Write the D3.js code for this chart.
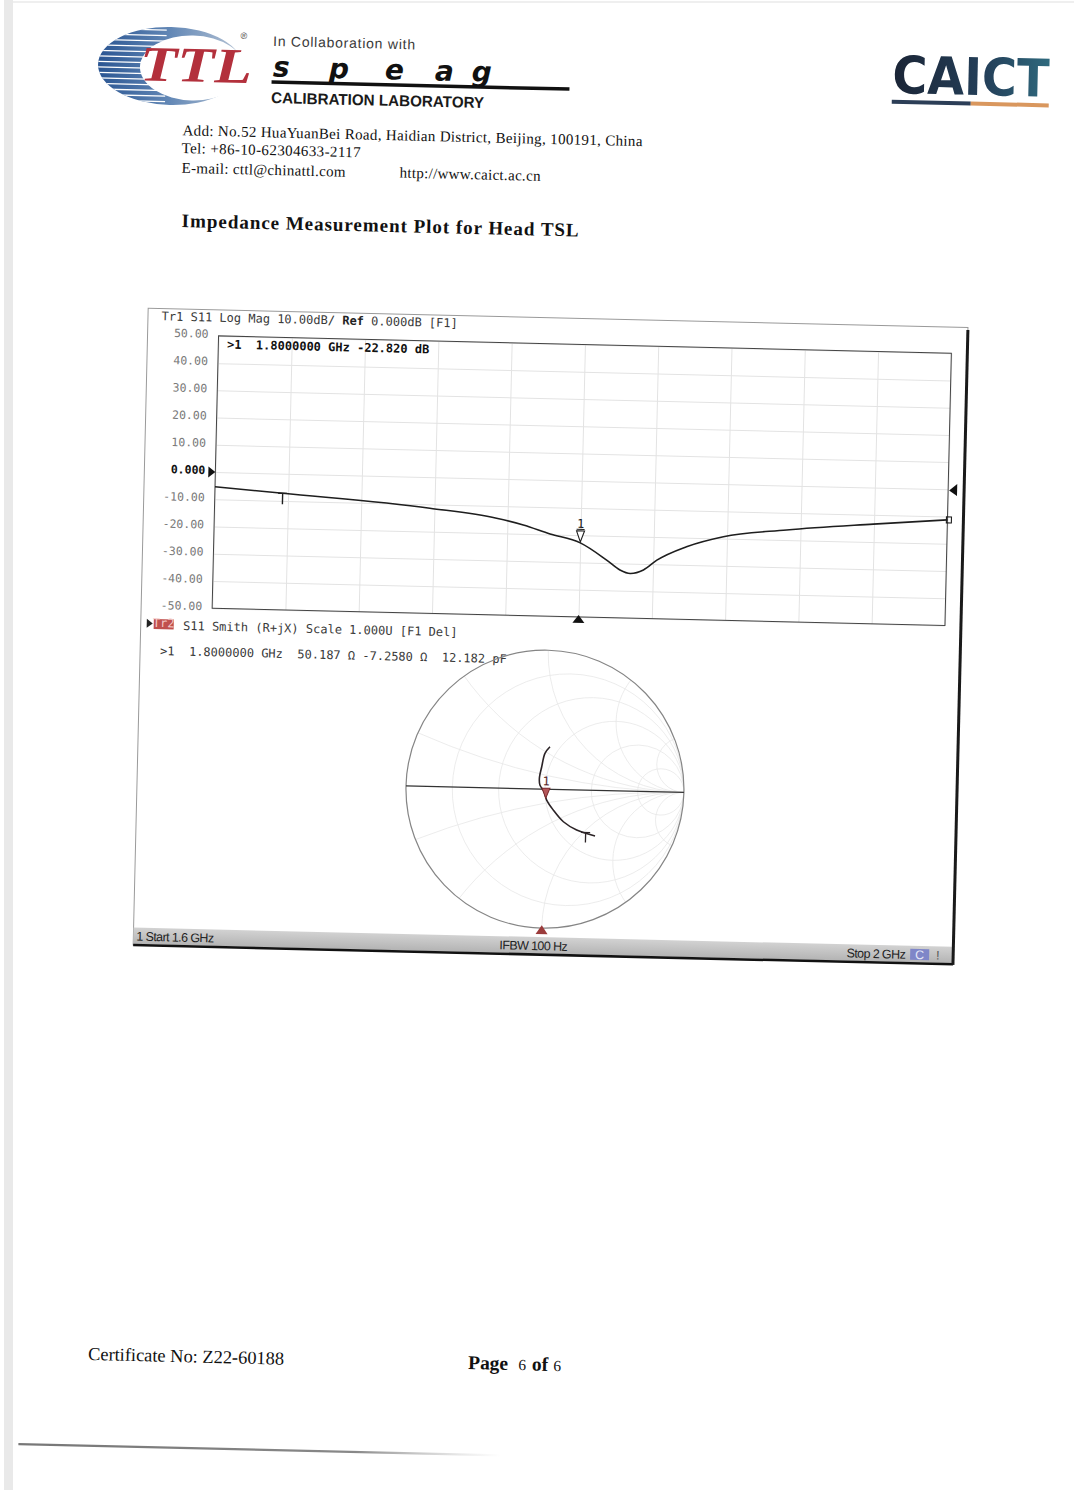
<!DOCTYPE html>
<html>
<head>
  <meta charset="utf-8">
  <title>Impedance Measurement Plot for Head TSL</title>
  <script src="https://d3js.org/d3.v7.min.js"></script>
  <style>
    body { margin: 0; background: #fff; }
    svg { display: block; }
    .serif { font-family: "Liberation Serif", "Times New Roman", serif; fill: #111; }
    .sans { font-family: "Liberation Sans", Arial, sans-serif; }
    .mono { font-family: "DejaVu Sans Mono", monospace; font-size: 12px; fill: #3a3a3a; }
    .grid line { stroke: #e3e3e3; stroke-width: 1; }
    .grid path { display: none; }
    .ylab path { display: none; }
    .ylab text { font-family: "DejaVu Sans Mono", monospace; font-size: 11.5px; fill: #7a7a7a; }
    .smithgrid circle { fill: none; stroke: #e8e8e8; stroke-width: 0.8; }
    .status text { font-family: "Liberation Sans", Arial, sans-serif; font-size: 12.5px; fill: #222; letter-spacing: -0.6px; }
  </style>
</head>
<body>
<svg width="1074" height="1490"></svg>
<script>

// S11 log magnitude (GHz / dB)
const freqGHz = [1.6, 1.637, 1.7175, 1.754, 1.7687, 1.7834, 1.8, 1.8146, 1.822, 1.8276, 1.8348, 1.842, 1.858, 1.878, 1.9124, 1.9596, 2.0];
const s11dB   = [-5.4, -7.2, -11.4, -14.5, -16.75, -19.8, -22.82, -28.9, -32.4, -33.6, -32.2, -28.5, -23.3, -19.3, -16.3, -13.4, -11.2];

// axes of the log mag panel
const dbTicks = [50, 40, 30, 20, 10, 0, -10, -20, -30, -40, -50];
const freqStart = 1.6, freqStop = 2.0, freqDivs = 10;

// Smith chart trace, reflection coefficient (1.6 GHz -> 2 GHz)
const smithRe = [0.368, 0.235, 0.138, 0.063, 0.014, -0.006, -0.037, -0.042, -0.027, -0.006, 0.029];
const smithIm = [-0.328, -0.288, -0.231, -0.148, -0.078, -0.018, 0.029, 0.077, 0.161, 0.258, 0.306];
const smithGridR = [0.2, 0.5, 1, 2, 5];
const smithGridX = [0.2, 0.5, 1, 2, 5];

// markers
const marker1Freq = 1.8, marker1dB = -22.82;
const marker1Gamma = [0.007, -0.072];
const markerTFreq = 1.637, markerTdB = -7.2;
const markerTGamma = [0.30, -0.305];

const svg = d3.select("svg");
const defs = svg.append("defs");

svg.append("rect").attr("width", 1074).attr("height", 1490).attr("fill", "#fff");
// scanner shading on the left edge (not tilted)
svg.append("rect").attr("x", 4).attr("y", 0).attr("width", 9).attr("height", 1490).attr("fill", "#e9e9e9");
svg.append("line").attr("x1", 13).attr("x2", 1074).attr("y1", 2).attr("y2", 2)
  .attr("stroke", "#efefef").attr("stroke-width", 2);

// the whole sheet is scanned slightly tilted
const page = svg.append("g").attr("transform", "rotate(1.35 537 745)");

// ---------- TTL logo ----------
const ttlGrad = defs.append("linearGradient").attr("id", "ttlBlue");
[["0", "#2a5592"], ["0.5", "#6388b6"], ["1", "#b9c6d6"]].forEach(([o, c]) =>
  ttlGrad.append("stop").attr("offset", o).attr("stop-color", c));
defs.append("clipPath").attr("id", "ttlClip").append("ellipse")
  .attr("cx", 154.6).attr("cy", 74.8).attr("rx", 72.5).attr("ry", 39);

const ttl = page.append("g");
ttl.append("ellipse").attr("cx", 154.6).attr("cy", 74.8).attr("rx", 72.5).attr("ry", 39)
  .attr("fill", "url(#ttlBlue)");
ttl.append("g").attr("clip-path", "url(#ttlClip)")
  .selectAll("line").data(d3.range(39, 114, 5.5)).join("line")
  .attr("x1", 80).attr("x2", 150).attr("y1", d => d).attr("y2", d => d)
  .attr("stroke", "#fff").attr("stroke-width", 1.3);
ttl.append("ellipse").attr("cx", 176.6).attr("cy", 76.3).attr("rx", 52.5).attr("ry", 32.5)
  .attr("fill", "#fff");
ttl.append("text").attr("class", "serif").attr("x", 124).attr("y", 90)
  .attr("font-size", 50).attr("font-weight", "bold").attr("font-style", "italic")
  .attr("textLength", 112).attr("lengthAdjust", "spacingAndGlyphs")
  .style("fill", "#b3303c").text("TTL");
ttl.append("text").attr("class", "sans").attr("x", 224).attr("y", 46)
  .attr("font-size", 9).attr("fill", "#333").text("®");

// ---------- speag ----------
page.append("text").attr("class", "sans").attr("x", 256.6).attr("y", 52.4)
  .attr("font-size", 14).attr("fill", "#3a3a3a").attr("textLength", 142)
  .text("In Collaboration with");
const speag = page.append("text").attr("x", 0).attr("y", 83)
  .style("font-family", "'DejaVu Sans', sans-serif").attr("font-size", 28)
  .attr("font-weight", "bold").attr("font-style", "italic").attr("fill", "#111");
[["s", 257], ["p", 313], ["e", 369], ["a", 419], ["g", 456]].forEach(([ch, x]) =>
  speag.append("tspan").attr("x", x).text(ch));
page.append("line").attr("x1", 256).attr("x2", 554).attr("y1", 88.5).attr("y2", 88.5)
  .attr("stroke", "#111").attr("stroke-width", 3.5);
page.append("text").attr("class", "sans").attr("x", 256).attr("y", 109.5)
  .attr("font-size", 15.5).attr("font-weight", "bold").attr("fill", "#1a1a1a")
  .attr("textLength", 213).attr("lengthAdjust", "spacingAndGlyphs")
  .text("CALIBRATION LABORATORY");

// ---------- CAICT ----------
const caGrad = defs.append("linearGradient").attr("id", "caictText").attr("x2", "1").attr("y2", "0");
[["0", "#1b2536"], ["0.6", "#24405a"], ["1", "#2f6a7e"]].forEach(([o, c]) =>
  caGrad.append("stop").attr("offset", o).attr("stop-color", c));
page.append("text").attr("x", 876.5).attr("y", 84.8)
  .style("font-family", "'DejaVu Sans', sans-serif").attr("font-size", 52).attr("font-weight", "bold")
  .attr("textLength", 157).attr("lengthAdjust", "spacingAndGlyphs")
  .attr("fill", "url(#caictText)").text("CAICT");
page.append("rect").attr("x", 876.5).attr("y", 91.5).attr("width", 79).attr("height", 4).attr("fill", "#2c3e57");
page.append("rect").attr("x", 955.5).attr("y", 91.5).attr("width", 78).attr("height", 4).attr("fill", "#d9975e");

// ---------- address ----------
const addr = [
  ["Add: No.52 HuaYuanBei Road, Haidian District, Beijing, 100191, China", 168.2, 143.8, 460],
  ["Tel: +86-10-62304633-2117", 167.6, 161.6, 179],
  ["E-mail: cttl@chinattl.com", 168.1, 181.4, 164],
  ["http://www.caict.ac.cn", 386.1, 181, 141]
];
page.selectAll(".addr").data(addr).join("text").attr("class", "serif addr")
  .attr("x", d => d[1]).attr("y", d => d[2]).attr("font-size", 15)
  .attr("textLength", d => d[3]).text(d => d[0]);
page.append("text").attr("class", "serif").attr("x", 169.5).attr("y", 235.6)
  .attr("font-size", 19).attr("font-weight", "bold").attr("textLength", 397)
  .text("Impedance Measurement Plot for Head TSL");

// ---------- analyzer screen ----------
const scr = page.append("g");
const frame = { left: 138, top: 317.5, right: 958, bottom: 954.5 };
scr.append("rect").attr("x", frame.left).attr("y", frame.top)
  .attr("width", frame.right - frame.left).attr("height", frame.bottom - frame.top)
  .attr("fill", "#fff").attr("stroke", "#9a9a9a").attr("stroke-width", 1);

// log mag panel
const plot = { left: 209, right: 942, top: 343.5, bottom: 616 };
const x = d3.scaleLinear().domain([freqStart, freqStop]).range([plot.left, plot.right]);
const y = d3.scaleLinear().domain([-50, 50]).range([plot.bottom, plot.top]);
const freqGrid = d3.range(freqDivs + 1).map(i => freqStart + i * (freqStop - freqStart) / freqDivs);

scr.append("g").attr("class", "grid").attr("transform", `translate(${plot.left},0)`)
  .call(d3.axisLeft(y).tickValues(dbTicks).tickSize(-(plot.right - plot.left)).tickFormat(""));
scr.append("g").attr("class", "grid").attr("transform", `translate(0,${plot.bottom})`)
  .call(d3.axisBottom(x).tickValues(freqGrid).tickSize(-(plot.bottom - plot.top)).tickFormat(""));

scr.append("rect").attr("x", plot.left).attr("y", plot.top)
  .attr("width", plot.right - plot.left).attr("height", plot.bottom - plot.top)
  .attr("fill", "none").attr("stroke", "#444").attr("stroke-width", 1);

const ylab = scr.append("g").attr("class", "ylab").attr("transform", `translate(${plot.left},-2)`)
  .call(d3.axisLeft(y).tickValues(dbTicks).tickSize(0).tickPadding(10)
    .tickFormat(v => v === 0 ? "0.000" : v.toFixed(2)));
ylab.selectAll("text").filter(v => v === 0).style("fill", "#111").style("font-weight", "bold");

// reference level arrows
scr.append("path").attr("fill", "#111")
  .attr("d", `M${plot.left - 7},${y(0) - 5.5} L${plot.left},${y(0)} L${plot.left - 7},${y(0) + 5.5} Z`);
scr.append("path").attr("fill", "#111")
  .attr("d", `M${plot.right + 9},${y(0) - 5.5} L${plot.right + 1},${y(0) + 1} L${plot.right + 9},${y(0) + 6.5} Z`);

const hdr = scr.append("text").attr("class", "mono").attr("x", 151.7).attr("y", 329.3);
hdr.append("tspan").text("Tr1 S11 Log Mag 10.00dB/ ");
hdr.append("tspan").attr("font-weight", "bold").style("fill", "#222").text("Ref");
hdr.append("tspan").text(" 0.000dB [F1]");
scr.append("text").attr("class", "mono").attr("x", 217.7).attr("y", 356)
  .attr("font-weight", "bold").style("fill", "#111").attr("xml:space", "preserve")
  .text(">1  1.8000000 GHz -22.820 dB");

const logData = freqGHz.map((f, i) => ({ f, db: s11dB[i] }));
scr.append("path").datum(logData).attr("fill", "none").attr("stroke", "#1e1e1e").attr("stroke-width", 1.6)
  .attr("d", d3.line().x(d => x(d.f)).y(d => y(d.db)).curve(d3.curveMonotoneX));

// T marker
const tx = x(markerTFreq), ty = y(markerTdB);
scr.append("path").attr("fill", "none").attr("stroke", "#1e1e1e").attr("stroke-width", 1.4)
  .attr("d", `M${tx - 4.5},${ty} H${tx + 4.5} M${tx},${ty} V${ty + 11}`);
// end of sweep marker
const ex = x(freqStop), ey = y(s11dB[s11dB.length - 1]);
scr.append("rect").attr("x", ex - 1).attr("y", ey - 3).attr("width", 5).attr("height", 6)
  .attr("fill", "none").attr("stroke", "#1e1e1e").attr("stroke-width", 1.1);

// marker 1
const m1x = x(marker1Freq), m1y = y(marker1dB);
scr.append("path").attr("fill", "#fff").attr("stroke", "#1e1e1e").attr("stroke-width", 1.1)
  .attr("d", `M${m1x - 4},${m1y - 12} H${m1x + 4} L${m1x},${m1y - 1} Z`);
scr.append("text").attr("class", "mono").attr("x", m1x).attr("y", m1y - 15)
  .attr("text-anchor", "middle").attr("font-size", 11).style("fill", "#1e1e1e").text("1");
scr.append("line").attr("x1", m1x - 4).attr("x2", m1x + 4).attr("y1", m1y - 13.5).attr("y2", m1y - 13.5)
  .attr("stroke", "#1e1e1e").attr("stroke-width", 1);
scr.append("path").attr("fill", "#111")
  .attr("d", `M${m1x - 6},${plot.bottom + 6} L${m1x},${plot.bottom - 2} L${m1x + 6},${plot.bottom + 6} Z`);

// ---------- Smith panel ----------
scr.append("path").attr("fill", "#222").attr("d", "M144,628 L150,632.5 L144,637 Z");
scr.append("rect").attr("x", 151).attr("y", 628).attr("width", 20).attr("height", 10).attr("fill", "#c0504d");
scr.append("text").attr("class", "mono").attr("x", 161).attr("y", 636).attr("text-anchor", "middle")
  .attr("font-size", 7.5).style("fill", "#f3c9c6").text("Tr2");
scr.append("text").attr("class", "mono").attr("x", 180.4).attr("y", 638.3)
  .text("S11 Smith (R+jX) Scale 1.000U [F1 Del]");
scr.append("text").attr("class", "mono").attr("x", 158).attr("y", 663.9).attr("xml:space", "preserve")
  .text(">1  1.8000000 GHz  50.187 Ω -7.2580 Ω  12.182 pF");

const cx = 546, cy = 789, R = 139;
const sx = d3.scaleLinear().domain([-1, 1]).range([cx - R, cx + R]);
const sy = d3.scaleLinear().domain([-1, 1]).range([cy + R, cy - R]);

defs.append("clipPath").attr("id", "smithClip").append("circle").attr("cx", cx).attr("cy", cy).attr("r", R);
const sg = scr.append("g").attr("class", "smithgrid").attr("clip-path", "url(#smithClip)");
sg.selectAll(".rc").data(smithGridR).join("circle").attr("class", "rc")
  .attr("cx", r => sx(r / (1 + r))).attr("cy", sy(0)).attr("r", r => (sx(1) - sx(0)) / (1 + r));
sg.selectAll(".xc").data(smithGridX.flatMap(v => [v, -v])).join("circle").attr("class", "xc")
  .attr("cx", sx(1)).attr("cy", v => sy(1 / v)).attr("r", v => (sx(1) - sx(0)) / Math.abs(v));

scr.append("circle").attr("cx", cx).attr("cy", cy).attr("r", R)
  .attr("fill", "none").attr("stroke", "#858585").attr("stroke-width", 1.2);
scr.append("line").attr("x1", sx(-1)).attr("x2", sx(1)).attr("y1", sy(0)).attr("y2", sy(0))
  .attr("stroke", "#333").attr("stroke-width", 1.3);

const smithData = smithRe.map((re, i) => ({ re, im: smithIm[i] }));
scr.append("path").datum(smithData).attr("fill", "none").attr("stroke", "#2b2326").attr("stroke-width", 1.6)
  .attr("d", d3.line().x(d => sx(d.re)).y(d => sy(d.im)).curve(d3.curveCatmullRom));

const stx = sx(markerTGamma[0]), sty = sy(markerTGamma[1]);
scr.append("path").attr("fill", "none").attr("stroke", "#2b2326").attr("stroke-width", 1.3)
  .attr("d", `M${stx - 4.5},${sty} H${stx + 4.5} M${stx},${sty} V${sty + 10}`);

const s1x = sx(marker1Gamma[0]), s1y = sy(marker1Gamma[1]);
scr.append("path").attr("fill", "#b5575a").attr("stroke", "#7a2a2c").attr("stroke-width", 1)
  .attr("d", `M${s1x - 4},${s1y - 11} H${s1x + 4} L${s1x},${s1y - 1} Z`);
scr.append("text").attr("class", "mono").attr("x", s1x).attr("y", s1y - 14)
  .attr("text-anchor", "middle").attr("font-size", 10).style("fill", "#5a2a2c").text("1");
scr.append("path").attr("fill", "#9b3b3b")
  .attr("d", `M${cx - 6},${cy + R + 6} L${cx},${cy + R - 3} L${cx + 6},${cy + R + 6} Z`);

// status bar
const barGrad = defs.append("linearGradient").attr("id", "bar").attr("x2", "0").attr("y2", "1");
[["0", "#d2d2d2"], ["1", "#b3b3b3"]].forEach(([o, c]) => barGrad.append("stop").attr("offset", o).attr("stop-color", c));
const status = scr.append("g").attr("class", "status");
status.append("rect").attr("x", frame.left).attr("y", 937).attr("width", frame.right - frame.left).attr("height", 16.5)
  .attr("fill", "url(#bar)");
status.append("line").attr("x1", frame.left).attr("x2", frame.right).attr("y1", 954.5).attr("y2", 954.5)
  .attr("stroke", "#111").attr("stroke-width", 2.5);
status.append("text").attr("x", 141).attr("y", 950).text("1  Start 1.6 GHz");
status.append("text").attr("x", 538).attr("y", 950).attr("text-anchor", "middle").text("IFBW 100 Hz");
status.append("text").attr("x", 910).attr("y", 950).attr("text-anchor", "end").text("Stop 2 GHz");
status.append("rect").attr("x", 915).attr("y", 940).attr("width", 19).attr("height", 11).attr("fill", "#7f86c8");
status.append("text").attr("x", 920).attr("y", 950).style("fill", "#e4e6f7").text("C");
status.append("text").attr("x", 941).attr("y", 950).style("fill", "#555").text("!");

// heavy right edge of the screen
scr.append("line").attr("x1", frame.right).attr("x2", frame.right).attr("y1", 320).attr("y2", 955)
  .attr("stroke", "#1a1a1a").attr("stroke-width", 3);

// ---------- footer ----------
page.append("text").attr("class", "serif").attr("x", 102.6).attr("y", 1370.4)
  .attr("font-size", 18.4).attr("textLength", 196).text("Certificate No: Z22-60188");
const pg = page.append("text").attr("class", "serif").attr("y", 1370.4);
pg.append("tspan").attr("x", 482.7).attr("font-size", 19.5).attr("font-weight", "bold").text("Page");
pg.append("tspan").attr("x", 533).attr("font-size", 15.5).text("6");
pg.append("tspan").attr("x", 546.5).attr("font-size", 19.5).attr("font-weight", "bold").text("of");
pg.append("tspan").attr("x", 568).attr("font-size", 15.5).text("6");

const ruleGrad = defs.append("linearGradient").attr("id", "rule");
[["0", "#777", 1], ["0.7", "#888", 1], ["1", "#bbb", 0]].forEach(([o, c, a]) =>
  ruleGrad.append("stop").attr("offset", o).attr("stop-color", c).attr("stop-opacity", a));
page.append("rect").attr("x", 35).attr("y", 1455).attr("width", 482).attr("height", 2.2).attr("fill", "url(#rule)");

</script>
</body>
</html>
